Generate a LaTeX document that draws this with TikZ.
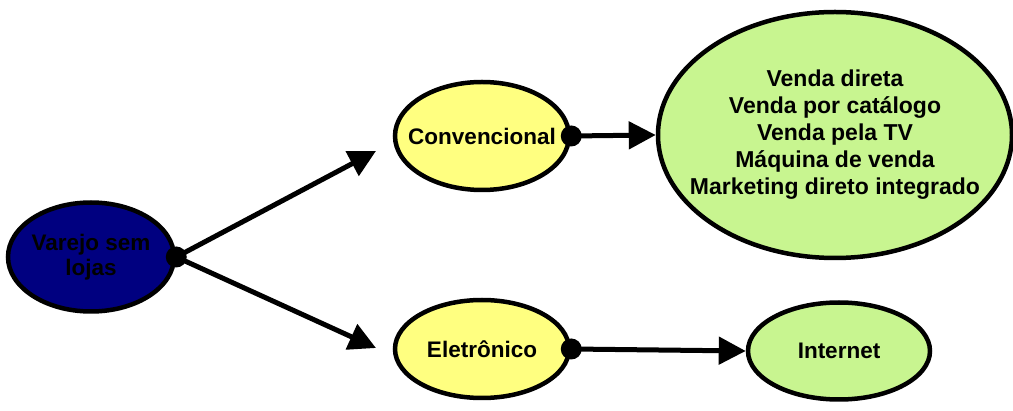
\documentclass[tikz,border=0pt]{standalone}
\usepackage{fontspec}
\setmainfont{Liberation Sans}
\usetikzlibrary{shapes.geometric,arrows.meta}
\definecolor{navyfill}{RGB}{0,0,128}
\definecolor{paleyellow}{RGB}{255,255,128}
\definecolor{palegreen}{RGB}{200,245,144}
\begin{document}
\begin{tikzpicture}[x=1pt,y=-1pt,
  bubble/.style={ellipse, draw=black, line width=4.5pt, inner xsep=-40pt, inner ysep=-10pt,
    align=center, font=\bfseries\fontsize{22.5}{25}\selectfont},
  joint/.style={circle, fill=black, inner sep=0pt, minimum size=21pt},
  link/.style={line width=5pt, -{Triangle[length=27pt,width=27pt]}}]
\useasboundingbox (0,0) rectangle (1013,411);

% the five categories
\node[bubble, fill=navyfill, minimum width=166pt, minimum height=109pt] (varejo) at (91,257) {Varejo sem\\lojas};
\node[bubble, fill=paleyellow, minimum width=174pt, minimum height=108pt] (conv) at (482,136) {Convencional};
\node[bubble, fill=palegreen, minimum width=354pt, minimum height=246pt,
      font=\bfseries\fontsize{23}{27}\selectfont] (lista) at (835,135)
  {Venda direta\\Venda por catálogo\\Venda pela TV\\Máquina de venda\\Marketing direto integrado};
\node[bubble, fill=paleyellow, minimum width=174pt, minimum height=98pt] (eletr) at (482,349) {Eletrônico};
\node[bubble, fill=palegreen, minimum width=182pt, minimum height=97pt] (internet) at (839,351) {Internet};

% free ends of the two branches leaving the root
\coordinate (tconv) at (376,151);
\coordinate (teletr) at (376,348);

\draw[link] (varejo.east) -- (tconv);
\draw[link] (varejo.east) -- (teletr);
\draw[link] (conv.east) -- (lista.west);
\draw[link] (eletr.east) -- (internet.west);

% joints on the right side of the source bubbles
\node[joint] (j1) at (varejo.east) {};
\node[joint] (j2) at (conv.east) {};
\node[joint] (j3) at (eletr.east) {};
\end{tikzpicture}
\end{document}
